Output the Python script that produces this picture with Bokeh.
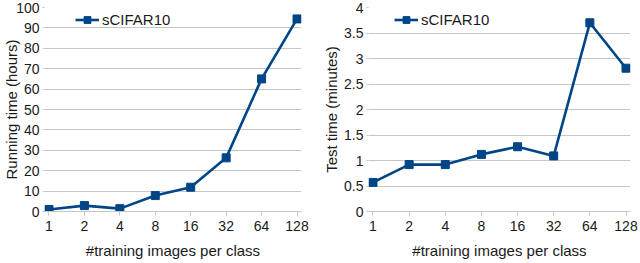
from bokeh.plotting import figure
from bokeh.layouts import row
from bokeh.models import FixedTicker, Legend, LegendItem, CustomJSTickFormatter, Range1d
from bokeh.embed import file_html
from bokeh.resources import INLINE

# ---- data ----
categories = ["1", "2", "4", "8", "16", "32", "64", "128"]
running_hours = [1.0, 2.9, 1.4, 7.8, 11.9, 26.3, 65.0, 94.4]
test_minutes = [0.57, 0.92, 0.92, 1.12, 1.27, 1.09, 3.70, 2.81]
series_name = "sCIFAR10"
left_yticks = [0, 10, 20, 30, 40, 50, 60, 70, 80, 90, 100]
right_yticks = [0, 0.5, 1, 1.5, 2, 2.5, 3, 3.5, 4]

xpos = list(range(len(categories)))

BLUE = "#004586"
GRID = "#c6c6c6"
FONT = "Liberation Sans"
TEXT = "#1a1a1a"
W, H = 320, 263
TOP, BOTTOM = 7, 52


def make_fig(values, yticks, ylabel, border_left, border_right, xpad, legend_x, ylabel_standoff):
    p = figure(width=W, height=H, output_backend="svg", toolbar_location=None,
               x_range=Range1d(-xpad, len(categories) - 1 + xpad),
               y_range=Range1d(yticks[0], yticks[-1]),
               min_border_left=border_left, min_border_right=border_right,
               min_border_top=TOP, min_border_bottom=BOTTOM)
    p.outline_line_color = None
    p.background_fill_color = "white"
    p.border_fill_color = "white"
    p.xgrid.grid_line_color = None
    p.ygrid.grid_line_color = GRID
    p.ygrid.bounds = (yticks[0], yticks[-2])

    ln = p.line(xpos, values, line_color=BLUE, line_width=2.6)
    sc = p.scatter(xpos, values, marker="square", size=8, fill_color=BLUE, line_color=BLUE)

    # x axis
    xa = p.xaxis[0]
    xa.ticker = FixedTicker(ticks=xpos)
    xa.major_label_overrides = {i: c for i, c in zip(xpos, categories)}
    xa.axis_line_color = GRID
    xa.major_tick_line_color = GRID
    xa.major_tick_out = 4
    xa.major_tick_in = 0
    xa.minor_tick_line_color = None
    xa.major_label_standoff = 5
    xa.major_label_text_font = FONT
    xa.major_label_text_font_size = "14px"
    xa.major_label_text_color = TEXT
    xa.axis_label = "#training images per class"
    xa.axis_label_text_font = FONT
    xa.axis_label_text_font_size = "15px"
    xa.axis_label_text_font_style = "normal"
    xa.axis_label_text_color = TEXT
    xa.axis_label_standoff = 8

    # y axis
    ya = p.yaxis[0]
    ya.ticker = FixedTicker(ticks=yticks)
    ya.formatter = CustomJSTickFormatter(code="return tick.toString();")
    ya.axis_line_color = None
    ya.major_tick_line_color = GRID
    ya.major_tick_out = 2
    ya.major_tick_in = 0
    ya.minor_tick_line_color = None
    ya.major_label_standoff = 3
    ya.major_label_text_font = FONT
    ya.major_label_text_font_size = "14px"
    ya.major_label_text_color = TEXT
    ya.axis_label = ylabel
    ya.axis_label_text_font = FONT
    ya.axis_label_text_font_size = "15px"
    ya.axis_label_text_font_style = "normal"
    ya.axis_label_text_color = TEXT
    ya.axis_label_standoff = ylabel_standoff

    frame_h = H - TOP - BOTTOM
    leg = Legend(items=[LegendItem(label=series_name, renderers=[ln, sc])],
                 location=(legend_x, frame_h - 4 - 17),
                 padding=0, margin=0, spacing=0,
                 glyph_width=24, glyph_height=17, label_standoff=3,
                 label_text_font=FONT, label_text_font_size="15px",
                 label_text_color=TEXT,
                 border_line_color=None, background_fill_alpha=0)
    p.add_layout(leg)
    return p


p1 = make_fig(running_hours, left_yticks, "Running time (hours)", 44, 19, 0.1265, 31, -7)
p2 = make_fig(test_minutes, right_yticks, "Test time (minutes)", 48, 10, 0.1245, 26, 1)

layout = row(p1, p2)
open("out.html", "w").write(file_html(layout, INLINE))
